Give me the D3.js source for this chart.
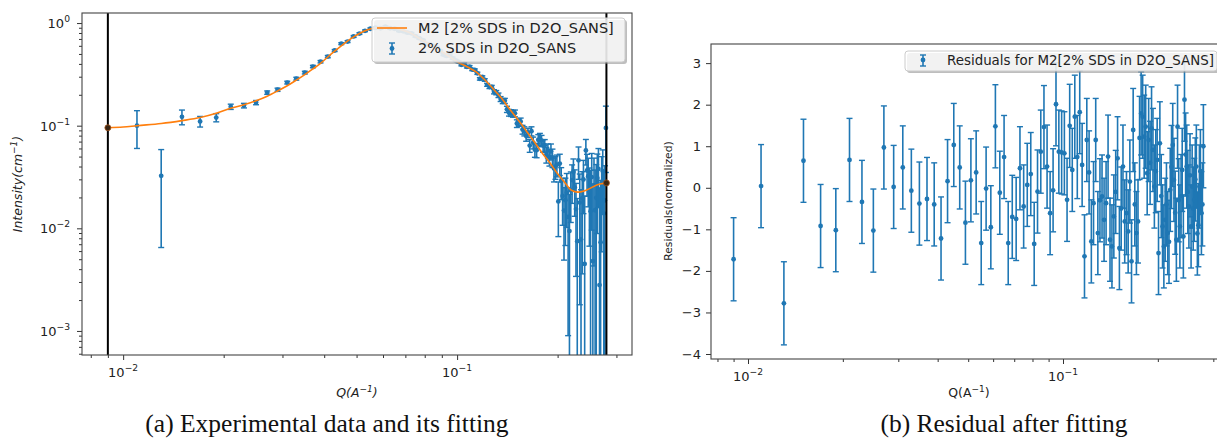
<!DOCTYPE html>
<html>
<head>
<meta charset="utf-8">
<script src="https://cdnjs.cloudflare.com/ajax/libs/d3/7.8.5/d3.min.js"></script>
<style>
  body { margin: 0; background: #fff; }
  svg { display: block; font-family: "DejaVu Sans", sans-serif; }
</style>
</head>
<body>
<svg id="chart" width="1217" height="442"></svg>
<script>

// Q values shared by both panels
var qValues = [
  0.009,0.011,0.013,0.015,0.017,0.019,
  0.021,0.023,0.025,0.027,0.029,0.031,0.033,0.035,0.037,0.039,
  0.041,0.043,0.045,0.047,0.049,0.051,0.053,0.055,0.057,0.059,
  0.061,0.063,0.065,0.067,0.069,0.071,0.073,0.075,0.077,0.079,
  0.081,0.083,0.085,0.087,0.089,0.091,0.093,0.095,0.097,0.099,
  0.101,0.103,0.105,0.107,0.109,0.111,0.113,0.115,0.117,0.119,
  0.121,0.123,0.125,0.127,0.129,0.131,0.133,0.135,0.137,0.139,
  0.141,0.143,0.145,0.147,0.149,0.151,0.153,0.155,0.157,0.159,
  0.161,0.163,0.165,0.167,0.169,0.171,0.173,0.175,0.177,0.179,
  0.181,0.183,0.185,0.187,0.189,0.191,0.193,0.195,0.197,0.199,
  0.201,0.203,0.205,0.207,0.209,0.211,0.213,0.215,0.217,0.219,
  0.221,0.223,0.225,0.227,0.229,0.231,0.233,0.235,0.237,0.239,
  0.241,0.243,0.245,0.247,0.249,0.251,0.253,0.255,0.257,0.259,
  0.261,0.263,0.265,0.267,0.269,0.271,0.273,0.275,0.277,0.279
];

// measured intensity (first point hidden behind the cut line)
var intensity = [
  null,0.100,0.0325,0.122,0.110,0.120,
  0.153,0.157,0.168,0.210,0.224,0.263,0.287,0.329,0.377,0.420,
  0.471,0.540,0.630,0.660,0.740,0.790,0.840,0.880,0.900,0.890,
  0.920,0.890,0.880,0.840,0.830,0.805,0.795,0.745,0.712,0.680,
  0.625,0.618,0.600,0.575,0.535,0.492,0.478,0.488,0.455,0.432,
  0.418,0.392,0.402,0.374,0.376,0.352,0.349,0.324,0.286,0.298,
  0.279,0.250,0.238,0.239,0.214,0.210,0.198,0.182,0.174,0.1745,
  0.1445,0.134,0.133,0.131,0.132,0.105,0.1075,0.1096,0.0917,0.0885,
  0.0795,0.0854,0.064,0.0885,0.0684,0.0582,0.0577,0.0728,0.0751,0.0714,
  0.0641,0.0642,0.0522,0.0574,0.0494,0.0563,0.0491,0.0383,0.0400,0.0417,
  0.0183,0.0427,0.0290,0.0207,0.0149,0.0188,0.0222,0.0129,0.0094,0.0234,
  0.0295,0.0354,0.0251,0.0154,0.0075,0.0460,0.0178,0.0078,0.0196,0.0299,
  0.0045,0.0574,0.0366,0.0322,0.0227,0.0147,0.0316,0.0048,0.0263,0.0150,
  0.0198,0.0309,0.0379,0.0028,0.0073,0.0279,0.0361,0.0140,0.0187,0.0950
];

var intensityErr = [
  null,0.040,0.026,0.020,0.013,0.011,
  0.009,0.008,0.008,0.008,0.008,0.008,0.009,0.010,0.010,0.011,
  0.012,0.012,0.013,0.014,0.015,0.015,0.016,0.016,0.016,0.016,
  0.016,0.016,0.016,0.015,0.015,0.015,0.014,0.014,0.013,0.013,
  0.012,0.012,0.012,0.011,0.011,0.010,0.010,0.010,0.010,0.009,
  0.009,0.009,0.009,0.009,0.009,0.008,0.008,0.008,0.008,0.008,
  0.008,0.008,0.008,0.008,0.010,0.010,0.010,0.010,0.010,0.010,
  0.010,0.010,0.010,0.010,0.010,0.009,0.009,0.009,0.009,0.009,
  0.009,0.009,0.009,0.009,0.009,0.009,0.009,0.009,0.009,0.009,
  0.009,0.009,0.009,0.009,0.009,0.010,0.010,0.010,0.010,0.010,
  0.010,0.010,0.010,0.010,0.010,0.012,0.012,0.012,0.012,0.012,
  0.012,0.012,0.012,0.012,0.012,0.016,0.016,0.016,0.016,0.016,
  0.016,0.016,0.016,0.016,0.016,0.022,0.022,0.022,0.022,0.022,
  0.022,0.022,0.022,0.022,0.022,0.022,0.022,0.022,0.022,0.060
];

// normalized residuals, each with an error of 1
var residuals = [
  -1.72,0.04,-2.78,0.65,-0.92,-1.02,
  0.67,-0.34,-1.03,0.97,0.02,0.49,-0.07,-0.38,-0.27,-0.40,
  -1.22,0.16,1.03,0.49,-0.84,0.18,0.37,-1.33,-0.02,-0.95,
  1.48,-0.12,0.74,-1.33,-0.70,-0.75,0.47,-0.45,0.07,0.33,
  -1.35,-0.09,0.87,1.46,0.51,-0.61,-0.06,2.01,0.87,0.85,
  0.83,-0.29,1.49,0.43,1.71,0.74,1.82,0.55,-1.65,1.15,
  0.37,-1.29,-0.37,1.15,-1.09,-0.30,-0.21,-0.77,-0.37,0.75,
  -1.25,-1.41,-0.69,-0.10,0.71,-1.45,-0.50,0.51,-0.81,-0.61,
  -1.05,0.15,-1.77,1.39,-0.40,-1.09,-0.81,1.20,1.79,1.71,
  1.23,1.47,0.35,1.15,0.60,1.43,0.91,0.03,0.40,0.67,
  -1.57,1.07,-0.20,-0.93,-1.41,-0.77,-0.40,-1.09,-1.30,-0.05,
  0.50,1.03,0.19,-0.60,-1.25,1.47,-0.30,-0.93,-0.20,0.43,
  -1.17,2.12,0.80,0.51,-0.10,-0.45,0.30,-0.93,0.03,-0.50,
  -0.29,0.20,0.51,-1.10,-0.90,0.03,0.40,-0.61,-0.40,1.00
];
var residualErr = 1;

// model M2 curve
var fitQ = [0.009,0.010,0.011,0.013,0.015,0.017,0.019,0.021,0.023,0.025,
            0.027,0.029,0.031,0.033,0.035,0.037,0.039,0.042,0.045,0.048,
            0.051,0.054,0.057,0.060,0.064,0.068,0.072,0.077,0.082,0.088,
            0.094,0.100,0.107,0.114,0.121,0.128,0.135,0.143,0.151,0.160,
            0.170,0.180,0.190,0.200,0.210,0.220,0.230,0.240,0.250,0.260,
            0.270,0.280];
var fitI = [0.0955,0.097,0.100,0.105,0.112,0.120,0.132,0.148,0.160,0.175,
            0.194,0.218,0.245,0.278,0.315,0.357,0.405,0.50,0.60,0.70,
            0.79,0.86,0.90,0.91,0.90,0.86,0.81,0.71,0.63,0.55,
            0.48,0.42,0.375,0.335,0.28,0.23,0.19,0.148,0.118,0.092,
            0.070,0.054,0.043,0.034,0.028,0.0235,0.0225,0.0231,0.0245,0.0262,
            0.0272,0.0277];
var fitRange = [0.009, 0.28];

var leftXTicks = [0.01, 0.1];
var leftYTicks = [1, 0.1, 0.01, 0.001];
var rightXTicks = [0.01, 0.1];
var rightYTicks = [-4, -3, -2, -1, 0, 1, 2, 3];

var blue = "#1f77b4", orange = "#ff7f0e";
var svg = d3.select("#chart");
svg.append("rect").attr("width", 1217).attr("height", 442).attr("fill", "#fff");

function expText(v) {
  var e = Math.round(Math.log10(v));
  return e < 0 ? "\u2212" + (-e) : "" + e;
}
function powLabel(t, v) {
  t.append("tspan").text("10");
  t.append("tspan").attr("dy", -6).attr("font-size", 9.2).text(expText(v));
}

// ---------------- panel (a) ----------------
var L = {x0: 82, x1: 632, y0: 13, y1: 355};
var xL = d3.scaleLog().domain([0.00753, 0.334]).range([L.x0, L.x1]);
var yL = d3.scaleLog().domain([0.000583, 1.253]).range([L.y1, L.y0]);

svg.append("clipPath").attr("id", "clipL").append("rect")
  .attr("x", L.x0).attr("y", L.y0).attr("width", L.x1 - L.x0).attr("height", L.y1 - L.y0);

var gA = svg.append("g");
var minorXL = xL.ticks().filter(d => leftXTicks.indexOf(d) < 0);
var minorYL = yL.ticks().filter(d => leftYTicks.indexOf(d) < 0);

gA.append("g").attr("transform", "translate(0," + L.y1 + ")")
  .call(d3.axisBottom(xL).tickValues(minorXL).tickSize(3).tickFormat(""));
gA.append("g").attr("transform", "translate(0," + L.y1 + ")")
  .call(d3.axisBottom(xL).tickValues(leftXTicks).tickSize(5).tickFormat(""));
gA.append("g").attr("transform", "translate(" + L.x0 + ",0)")
  .call(d3.axisLeft(yL).tickValues(minorYL).tickSize(3).tickFormat(""));
gA.append("g").attr("transform", "translate(" + L.x0 + ",0)")
  .call(d3.axisLeft(yL).tickValues(leftYTicks).tickSize(5).tickFormat(""));
gA.selectAll(".domain").remove();
gA.selectAll(".tick line").attr("stroke", "#333");

leftXTicks.forEach(function (v) {
  var t = gA.append("text").attr("x", xL(v)).attr("y", L.y1 + 22)
    .attr("text-anchor", "middle").attr("font-size", 13).attr("fill", "#222");
  powLabel(t, v);
});
leftYTicks.forEach(function (v) {
  var t = gA.append("text").attr("x", 70).attr("y", yL(v) + 5)
    .attr("text-anchor", "end").attr("font-size", 13).attr("fill", "#222");
  powLabel(t, v);
});

// data with error bars
var ptsA = qValues.map((q, i) => ({q: q, v: intensity[i], e: intensityErr[i]}))
  .filter(d => d.v != null);
var plotA = gA.append("g").attr("clip-path", "url(#clipL)");
var ebA = plotA.selectAll("g.eb").data(ptsA).enter().append("g").attr("class", "eb");
ebA.append("line")
  .attr("x1", d => xL(d.q)).attr("x2", d => xL(d.q))
  .attr("y1", d => yL(Math.max(d.v - d.e, 1e-5))).attr("y2", d => yL(d.v + d.e))
  .attr("stroke", blue).attr("stroke-width", 1.6);
ebA.append("line")
  .attr("x1", d => xL(d.q) - 3).attr("x2", d => xL(d.q) + 3)
  .attr("y1", d => yL(d.v + d.e)).attr("y2", d => yL(d.v + d.e))
  .attr("stroke", blue).attr("stroke-width", 1.4);
ebA.filter(d => d.v - d.e > 0).append("line")
  .attr("x1", d => xL(d.q) - 3).attr("x2", d => xL(d.q) + 3)
  .attr("y1", d => yL(d.v - d.e)).attr("y2", d => yL(d.v - d.e))
  .attr("stroke", blue).attr("stroke-width", 1.4);
ebA.append("circle").attr("cx", d => xL(d.q)).attr("cy", d => yL(d.v))
  .attr("r", 2.4).attr("fill", blue);

// fit curve
var fitPts = fitQ.map((q, i) => [q, fitI[i]]);
plotA.append("path").datum(fitPts)
  .attr("d", d3.line().x(d => xL(d[0])).y(d => yL(d[1])).curve(d3.curveMonotoneX))
  .attr("fill", "none").attr("stroke", orange).attr("stroke-width", 1.6);

// cut lines at fit range
fitRange.forEach(function (q) {
  plotA.append("line").attr("x1", xL(q)).attr("x2", xL(q))
    .attr("y1", L.y0).attr("y2", L.y1).attr("stroke", "#000").attr("stroke-width", 2);
});
[fitPts[0], fitPts[fitPts.length - 1]].forEach(function (p) {
  plotA.append("circle").attr("cx", xL(p[0])).attr("cy", yL(p[1])).attr("r", 3)
    .attr("fill", "#3a2614").attr("stroke", "#a0521a").attr("stroke-width", 0.8);
});

gA.append("rect").attr("x", L.x0).attr("y", L.y0)
  .attr("width", L.x1 - L.x0).attr("height", L.y1 - L.y0)
  .attr("fill", "none").attr("stroke", "#444").attr("stroke-width", 1.1);

// legend (a)
var lgA = gA.append("g");
lgA.append("rect").attr("x", 374).attr("y", 20).attr("width", 253).attr("height", 44)
  .attr("rx", 3).attr("fill", "#888").attr("opacity", 0.55);
lgA.append("rect").attr("x", 372).attr("y", 18).attr("width", 253).attr("height", 44)
  .attr("rx", 3).attr("fill", "#fff").attr("fill-opacity", 0.8).attr("stroke", "#ccc");
lgA.append("line").attr("x1", 377).attr("x2", 407).attr("y1", 28).attr("y2", 28)
  .attr("stroke", orange).attr("stroke-width", 1.6);
lgA.append("line").attr("x1", 392).attr("x2", 392).attr("y1", 43).attr("y2", 54)
  .attr("stroke", blue).attr("stroke-width", 1.6);
[43, 54].forEach(y => lgA.append("line").attr("x1", 389).attr("x2", 395)
  .attr("y1", y).attr("y2", y).attr("stroke", blue).attr("stroke-width", 1.4));
lgA.append("circle").attr("cx", 392).attr("cy", 48.5).attr("r", 2.4).attr("fill", blue);
lgA.append("text").attr("x", 418).attr("y", 33).attr("font-size", 14.5).attr("fill", "#222")
  .text("M2 [2% SDS in D2O_SANS]");
lgA.append("text").attr("x", 418).attr("y", 53).attr("font-size", 14.5).attr("fill", "#222")
  .text("2% SDS in D2O_SANS");

// axis labels (a)
var xlabA = gA.append("text").attr("x", 357).attr("y", 397).attr("text-anchor", "middle")
  .attr("font-size", 12.5).attr("font-style", "italic").attr("fill", "#222");
xlabA.append("tspan").text("Q(A");
xlabA.append("tspan").attr("dy", -5).attr("font-size", 9).text("\u22121");
xlabA.append("tspan").attr("dy", 5).text(")");
var ylabA = gA.append("text").attr("transform", "translate(22,184) rotate(-90)")
  .attr("text-anchor", "middle").attr("font-size", 12.5).attr("font-style", "italic").attr("fill", "#222");
ylabA.append("tspan").text("Intensity(cm");
ylabA.append("tspan").attr("dy", -5).attr("font-size", 9).text("\u22121");
ylabA.append("tspan").attr("dy", 5).text(")");

// ---------------- panel (b) ----------------
var R = {x0: 711, x1: 1228, y0: 44, y1: 359};
var xR = d3.scaleLog().domain([0.00763, 0.334]).range([R.x0, R.x1]);
var yR = d3.scaleLinear().domain([-4.12, 3.46]).range([R.y1, R.y0]);

svg.append("clipPath").attr("id", "clipR").append("rect")
  .attr("x", R.x0).attr("y", R.y0).attr("width", R.x1 - R.x0).attr("height", R.y1 - R.y0);

var gB = svg.append("g");
var minorXR = xR.ticks().filter(d => rightXTicks.indexOf(d) < 0);
gB.append("g").attr("transform", "translate(0," + R.y1 + ")")
  .call(d3.axisBottom(xR).tickValues(minorXR).tickSize(3).tickFormat(""));
gB.append("g").attr("transform", "translate(0," + R.y1 + ")")
  .call(d3.axisBottom(xR).tickValues(rightXTicks).tickSize(5).tickFormat(""));
gB.append("g").attr("transform", "translate(" + R.x0 + ",0)")
  .call(d3.axisLeft(yR).tickValues(rightYTicks).tickSize(5).tickFormat(""));
gB.selectAll(".domain").remove();
gB.selectAll(".tick line").attr("stroke", "#333");

rightXTicks.forEach(function (v) {
  var t = gB.append("text").attr("x", xR(v)).attr("y", R.y1 + 22)
    .attr("text-anchor", "middle").attr("font-size", 13).attr("fill", "#222");
  powLabel(t, v);
});
rightYTicks.forEach(function (v) {
  gB.append("text").attr("x", 701).attr("y", yR(v) + 4.5)
    .attr("text-anchor", "end").attr("font-size", 13).attr("fill", "#222")
    .text(v < 0 ? "\u2212" + (-v) : "" + v);
});

var ptsB = qValues.map((q, i) => ({q: q, v: residuals[i]}));
var plotB = gB.append("g").attr("clip-path", "url(#clipR)");
var ebB = plotB.selectAll("g.eb").data(ptsB).enter().append("g").attr("class", "eb");
ebB.append("line")
  .attr("x1", d => xR(d.q)).attr("x2", d => xR(d.q))
  .attr("y1", d => yR(d.v - residualErr)).attr("y2", d => yR(d.v + residualErr))
  .attr("stroke", blue).attr("stroke-width", 1.6);
[-1, 1].forEach(function (s) {
  ebB.append("line")
    .attr("x1", d => xR(d.q) - 3).attr("x2", d => xR(d.q) + 3)
    .attr("y1", d => yR(d.v + s * residualErr)).attr("y2", d => yR(d.v + s * residualErr))
    .attr("stroke", blue).attr("stroke-width", 1.4);
});
ebB.append("circle").attr("cx", d => xR(d.q)).attr("cy", d => yR(d.v))
  .attr("r", 2.4).attr("fill", blue);

gB.append("rect").attr("x", R.x0).attr("y", R.y0)
  .attr("width", R.x1 - R.x0).attr("height", R.y1 - R.y0)
  .attr("fill", "none").attr("stroke", "#444").attr("stroke-width", 1.1);

// legend (b)
var lgB = gB.append("g");
lgB.append("rect").attr("x", 907).attr("y", 53).attr("width", 312).attr("height", 20)
  .attr("rx", 3).attr("fill", "#888").attr("opacity", 0.55);
lgB.append("rect").attr("x", 905).attr("y", 51).attr("width", 312).attr("height", 20)
  .attr("rx", 3).attr("fill", "#fff").attr("fill-opacity", 0.8).attr("stroke", "#ccc");
lgB.append("line").attr("x1", 923).attr("x2", 923).attr("y1", 55).attr("y2", 66)
  .attr("stroke", blue).attr("stroke-width", 1.6);
[55, 66].forEach(y => lgB.append("line").attr("x1", 920).attr("x2", 926)
  .attr("y1", y).attr("y2", y).attr("stroke", blue).attr("stroke-width", 1.4));
lgB.append("circle").attr("cx", 923).attr("cy", 60).attr("r", 2.4).attr("fill", blue);
lgB.append("text").attr("x", 947).attr("y", 65).attr("font-size", 13.4).attr("fill", "#222")
  .text("Residuals for M2[2% SDS in D2O_SANS]");

// axis labels (b)
var xlabB = gB.append("text").attr("x", 969).attr("y", 397).attr("text-anchor", "middle")
  .attr("font-size", 12.5).attr("fill", "#222");
xlabB.append("tspan").text("Q(A");
xlabB.append("tspan").attr("dy", -5).attr("font-size", 9).text("\u22121");
xlabB.append("tspan").attr("dy", 5).text(")");
gB.append("text").attr("transform", "translate(672,201) rotate(-90)")
  .attr("text-anchor", "middle").attr("font-size", 10.8).attr("fill", "#222")
  .text("Residuals(normalized)");

// captions
svg.append("text").attr("x", 327).attr("y", 432).attr("text-anchor", "middle")
  .attr("font-family", "'Liberation Serif', serif").attr("font-size", 25.5).attr("fill", "#111")
  .text("(a) Experimental data and its fitting");
svg.append("text").attr("x", 1004).attr("y", 432).attr("text-anchor", "middle")
  .attr("font-family", "'Liberation Serif', serif").attr("font-size", 25.5).attr("fill", "#111")
  .text("(b) Residual after fitting");

</script>
</body>
</html>
